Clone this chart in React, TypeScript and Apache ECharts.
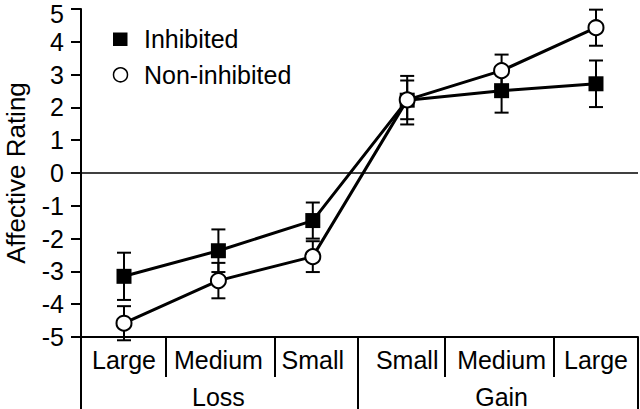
import React, { useEffect, useRef } from "react";
import * as echarts from "echarts";

const categories = ["Large", "Medium", "Small", "Small", "Medium", "Large"];
const groups = ["Loss", "Gain"];
const inhibited = [-3.15, -2.37, -1.45, 2.22, 2.51, 2.72];
const inhibitedErr = [0.72, 0.65, 0.55, 0.74, 0.67, 0.71];
const nonInhibited = [-4.58, -3.28, -2.55, 2.23, 3.12, 4.43];
const nonInhibitedErr = [0.52, 0.54, 0.47, 0.59, 0.49, 0.55];
const seriesNames = ["Inhibited", "Non-inhibited"];

const FONT = "'Liberation Sans', Arial, Helvetica, sans-serif";
const X_MIN = -0.4555;
const X_MAX = 5.445;
const SEPARATORS = [0.445, 1.6, 3.4, 4.555];
const GROUP_SEPARATORS = [X_MIN, 2.48, X_MAX];
const GROUP_CENTERS = [1, 4];

function errorSeries(values: number[], errs: number[], name: string) {
  return {
    type: "custom",
    name: name + " error",
    z: 1,
    silent: true,
    data: values.map((v, i) => [i, v, errs[i]]),
    encode: { x: 0, y: 1 },
    renderItem: (params: any, api: any) => {
      const x = api.value(0);
      const y = api.value(1);
      const e = api.value(2);
      const top = api.coord([x, y + e]);
      const bot = api.coord([x, y - e]);
      const hw = 7;
      const st = { stroke: "#000", lineWidth: 2 };
      return {
        type: "group",
        children: [
          { type: "line", shape: { x1: top[0], y1: top[1], x2: bot[0], y2: bot[1] }, style: st },
          { type: "line", shape: { x1: top[0] - hw, y1: top[1], x2: top[0] + hw, y2: top[1] }, style: st },
          { type: "line", shape: { x1: bot[0] - hw, y1: bot[1], x2: bot[0] + hw, y2: bot[1] }, style: st },
        ],
      };
    },
  };
}

export default function App() {
  const ref = useRef<HTMLDivElement>(null);
  useEffect(() => {
    if (!ref.current) return;
    const chart = echarts.init(ref.current, null, { renderer: "svg" });
    chart.setOption({
      animation: false,
      textStyle: { fontFamily: FONT },
      grid: { left: 81, right: 2, top: 9, bottom: 72, containLabel: false, outerBoundsMode: "none" },
      xAxis: [
        {
          type: "value",
          min: X_MIN,
          max: X_MAX,
          position: "bottom",
          splitLine: { show: false },
          axisLine: { show: true, onZero: false, lineStyle: { color: "#000", width: 2 } },
          axisTick: {
            show: true,
            inside: false,
            length: 40,
            customValues: SEPARATORS,
            lineStyle: { color: "#000", width: 2 },
          },
          axisLabel: {
            show: true,
            customValues: [0, 1, 2, 3, 4, 5],
            formatter: (v: number) => categories[Math.round(v)],
            color: "#000",
            fontSize: 25,
            fontFamily: FONT,
            margin: 10,
          },
        },
        {
          type: "value",
          min: X_MIN,
          max: X_MAX,
          position: "bottom",
          offset: 0,
          splitLine: { show: false },
          axisLine: { show: false, onZero: false },
          axisTick: {
            show: true,
            inside: false,
            length: 72,
            customValues: GROUP_SEPARATORS,
            lineStyle: { color: "#000", width: 2 },
          },
          axisLabel: {
            show: true,
            customValues: GROUP_CENTERS,
            formatter: (v: number) => groups[GROUP_CENTERS.indexOf(Math.round(v))],
            color: "#000",
            fontSize: 25,
            fontFamily: FONT,
            margin: 47,
          },
        },
      ],
      yAxis: {
        type: "value",
        min: -5,
        max: 5,
        interval: 1,
        name: "Affective Rating",
        nameLocation: "middle",
        nameRotate: 90,
        nameGap: 52,
        nameTextStyle: { color: "#000", fontSize: 26, fontFamily: FONT },
        splitLine: { show: false },
        axisLine: { show: true, onZero: false, lineStyle: { color: "#000", width: 2 } },
        axisTick: { show: true, inside: false, length: 10, lineStyle: { color: "#000", width: 2 } },
        axisLabel: {
          color: "#000",
          fontSize: 25,
          fontFamily: FONT,
          margin: 17,
          formatter: (v: number) => (v === 5 ? "{t|" + v + "}" : String(v)),
          rich: { t: { fontSize: 25, fontFamily: FONT, color: "#000", padding: [10, 0, 0, 0] } },
        },
      },
      series: [
        errorSeries(inhibited, inhibitedErr, seriesNames[0]),
        errorSeries(nonInhibited, nonInhibitedErr, seriesNames[1]),
        {
          type: "line",
          name: seriesNames[0],
          z: 3,
          data: inhibited.map((v, i) => [i, v]),
          symbol: "rect",
          symbolSize: 15,
          itemStyle: { color: "#000", borderColor: "#000", borderWidth: 0 },
          lineStyle: { color: "#000", width: 3 },
          markLine: {
            silent: true,
            symbol: ["none", "none"],
            label: { show: false },
            lineStyle: { color: "#000", width: 1.5, type: "solid" },
            data: [{ yAxis: 0 }],
          },
        },
        {
          type: "line",
          name: seriesNames[1],
          z: 4,
          data: nonInhibited.map((v, i) => [i, v]),
          symbol: "circle",
          symbolSize: 15,
          itemStyle: { color: "#fff", borderColor: "#000", borderWidth: 2 },
          lineStyle: { color: "#000", width: 3 },
        },
      ],
      graphic: [
        { type: "rect", shape: { x: 113, y: 32.5, width: 14.5, height: 13.5 }, style: { fill: "#000" } },
        { type: "circle", shape: { cx: 120.5, cy: 74.8, r: 7 }, style: { fill: "#fff", stroke: "#000", lineWidth: 1.5 } },
        {
          type: "text",
          x: 144,
          y: 38.5,
          style: { text: seriesNames[0], fill: "#000", fontSize: 25, fontFamily: FONT, verticalAlign: "middle", align: "left" },
        },
        {
          type: "text",
          x: 144,
          y: 74.5,
          style: { text: seriesNames[1], fill: "#000", fontSize: 25, fontFamily: FONT, verticalAlign: "middle", align: "left" },
        },
      ],
    });
    return () => chart.dispose();
  }, []);
  return (
    <div
      ref={ref}
      style={{ position: "absolute", left: 0, top: 0, width: 640, height: 409, background: "#fff" }}
    />
  );
}
